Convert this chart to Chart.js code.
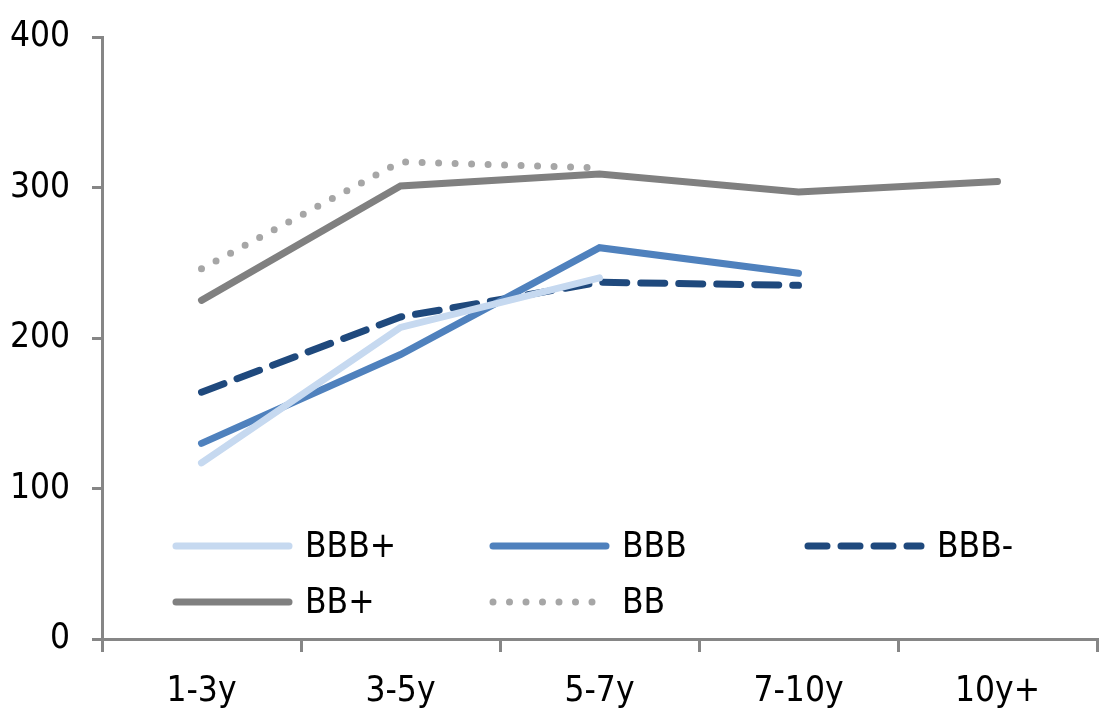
<!DOCTYPE html>
<html>
<head>
<meta charset="utf-8">
<script src="https://cdn.jsdelivr.net/npm/chart.js@4.4.1/dist/chart.umd.min.js"></script>
<style>
  html, body { margin: 0; padding: 0; background: #fff; }
  #wrap { width: 1110px; height: 708px; position: relative; }
</style>
</head>
<body>
<div id="wrap"><canvas id="chart"></canvas></div>
<script>
// ── Data ─────────────────────────────────────────────
const categories = ['1-3y', '3-5y', '5-7y', '7-10y', '10y+'];
const bbbPlus  = [117, 207, 240, null, null];
const bbb      = [130, 189, 260, 243, null];
const bbbMinus = [164, 214, 237, 235, null];
const bbPlus   = [225, 301, 309, 297, 304];
const bb       = [246, 317, 313, null, null];
const yTicks   = [0, 100, 200, 300, 400];

const FONT = "'Liberation Sans Narrow', 'DejaVu Sans Condensed', 'Liberation Sans', sans-serif";
const AXIS = '#868686';

// ── Legend drawn inside the plot, 3 columns x 2 rows ──
const legendPlugin = {
  id: 'insideLegend',
  afterDatasetsDraw(chart) {
    const ctx = chart.ctx;
    const cols = [172, 489, 804];
    const rows = [546, 602];
    const lineLen = 121;
    chart.data.datasets.forEach((ds, i) => {
      const x = cols[i % 3], y = rows[Math.floor(i / 3)];
      ctx.save();
      ctx.strokeStyle = ds.borderColor;
      ctx.lineWidth = ds.borderWidth;
      ctx.lineCap = ds.borderCapStyle || 'butt';
      ctx.setLineDash(ds.legendDash || ds.borderDash || []);
      ctx.beginPath();
      ctx.moveTo(x + 4, y);
      ctx.lineTo(x + lineLen - 4, y);
      ctx.stroke();
      ctx.setLineDash([]);
      ctx.fillStyle = '#000';
      ctx.font = '35px ' + FONT;
      ctx.textBaseline = 'middle';
      ctx.fillText(ds.label, x + lineLen + 12, y + 2);
      ctx.restore();
    });
  }
};

function series(label, data, color, width, dash, legendDash) {
  return {
    label, data,
    borderColor: color,
    backgroundColor: color,
    borderWidth: width,
    borderDash: dash,
    legendDash: legendDash,
    borderCapStyle: 'round',
    borderJoinStyle: 'miter',
    pointRadius: 0,
    pointHoverRadius: 0,
    tension: 0,
    spanGaps: false,
  };
}

new Chart(document.getElementById('chart'), {
  type: 'line',
  data: {
    labels: categories,
    datasets: [
      series('BBB+', bbbPlus,  '#c6d9f0', 7, []),
      series('BBB',  bbb,      '#4f81bd', 7, []),
      series('BBB-', bbbMinus, '#1f497d', 7, [24, 14], [19, 14]),
      series('BB+',  bbPlus,   '#808080', 7, []),
      series('BB',   bb,       '#a6a6a6', 7, [0, 16.5]),
    ],
  },
  options: {
    responsive: true,
    maintainAspectRatio: false,
    animation: false,
    devicePixelRatio: 1,
    layout: { padding: { top: 37, right: 13, left: 0, bottom: 0 } },
    plugins: {
      legend: { display: false },
      tooltip: { enabled: false },
    },
    scales: {
      x: {
        type: 'category',
        offset: true,
        grid: {
          offset: true,
          drawOnChartArea: false,
          drawTicks: true,
          tickLength: 13,
          color: AXIS,
          lineWidth: 3,
        },
        border: { color: AXIS, width: 3 },
        ticks: {
          color: '#000',
          font: { family: FONT, size: 35 },
          padding: 19,
          maxRotation: 0,
        },
        afterFit: s => { s.height = 69; },
      },
      y: {
        min: 0,
        max: 400,
        afterBuildTicks: s => { s.ticks = yTicks.map(v => ({ value: v })); },
        grid: {
          drawOnChartArea: false,
          drawTicks: true,
          tickLength: 10,
          color: AXIS,
          lineWidth: 3,
        },
        border: { color: AXIS, width: 3 },
        ticks: {
          color: '#000',
          font: { family: FONT, size: 35 },
          padding: 22,
        },
        // fixed axis width; drop the label-based top/bottom padding
        afterFit: s => { s.width = 102; s.paddingTop = 0; s.paddingBottom = 0; },
      },
    },
  },
  plugins: [legendPlugin],
});
</script>
</body>
</html>
